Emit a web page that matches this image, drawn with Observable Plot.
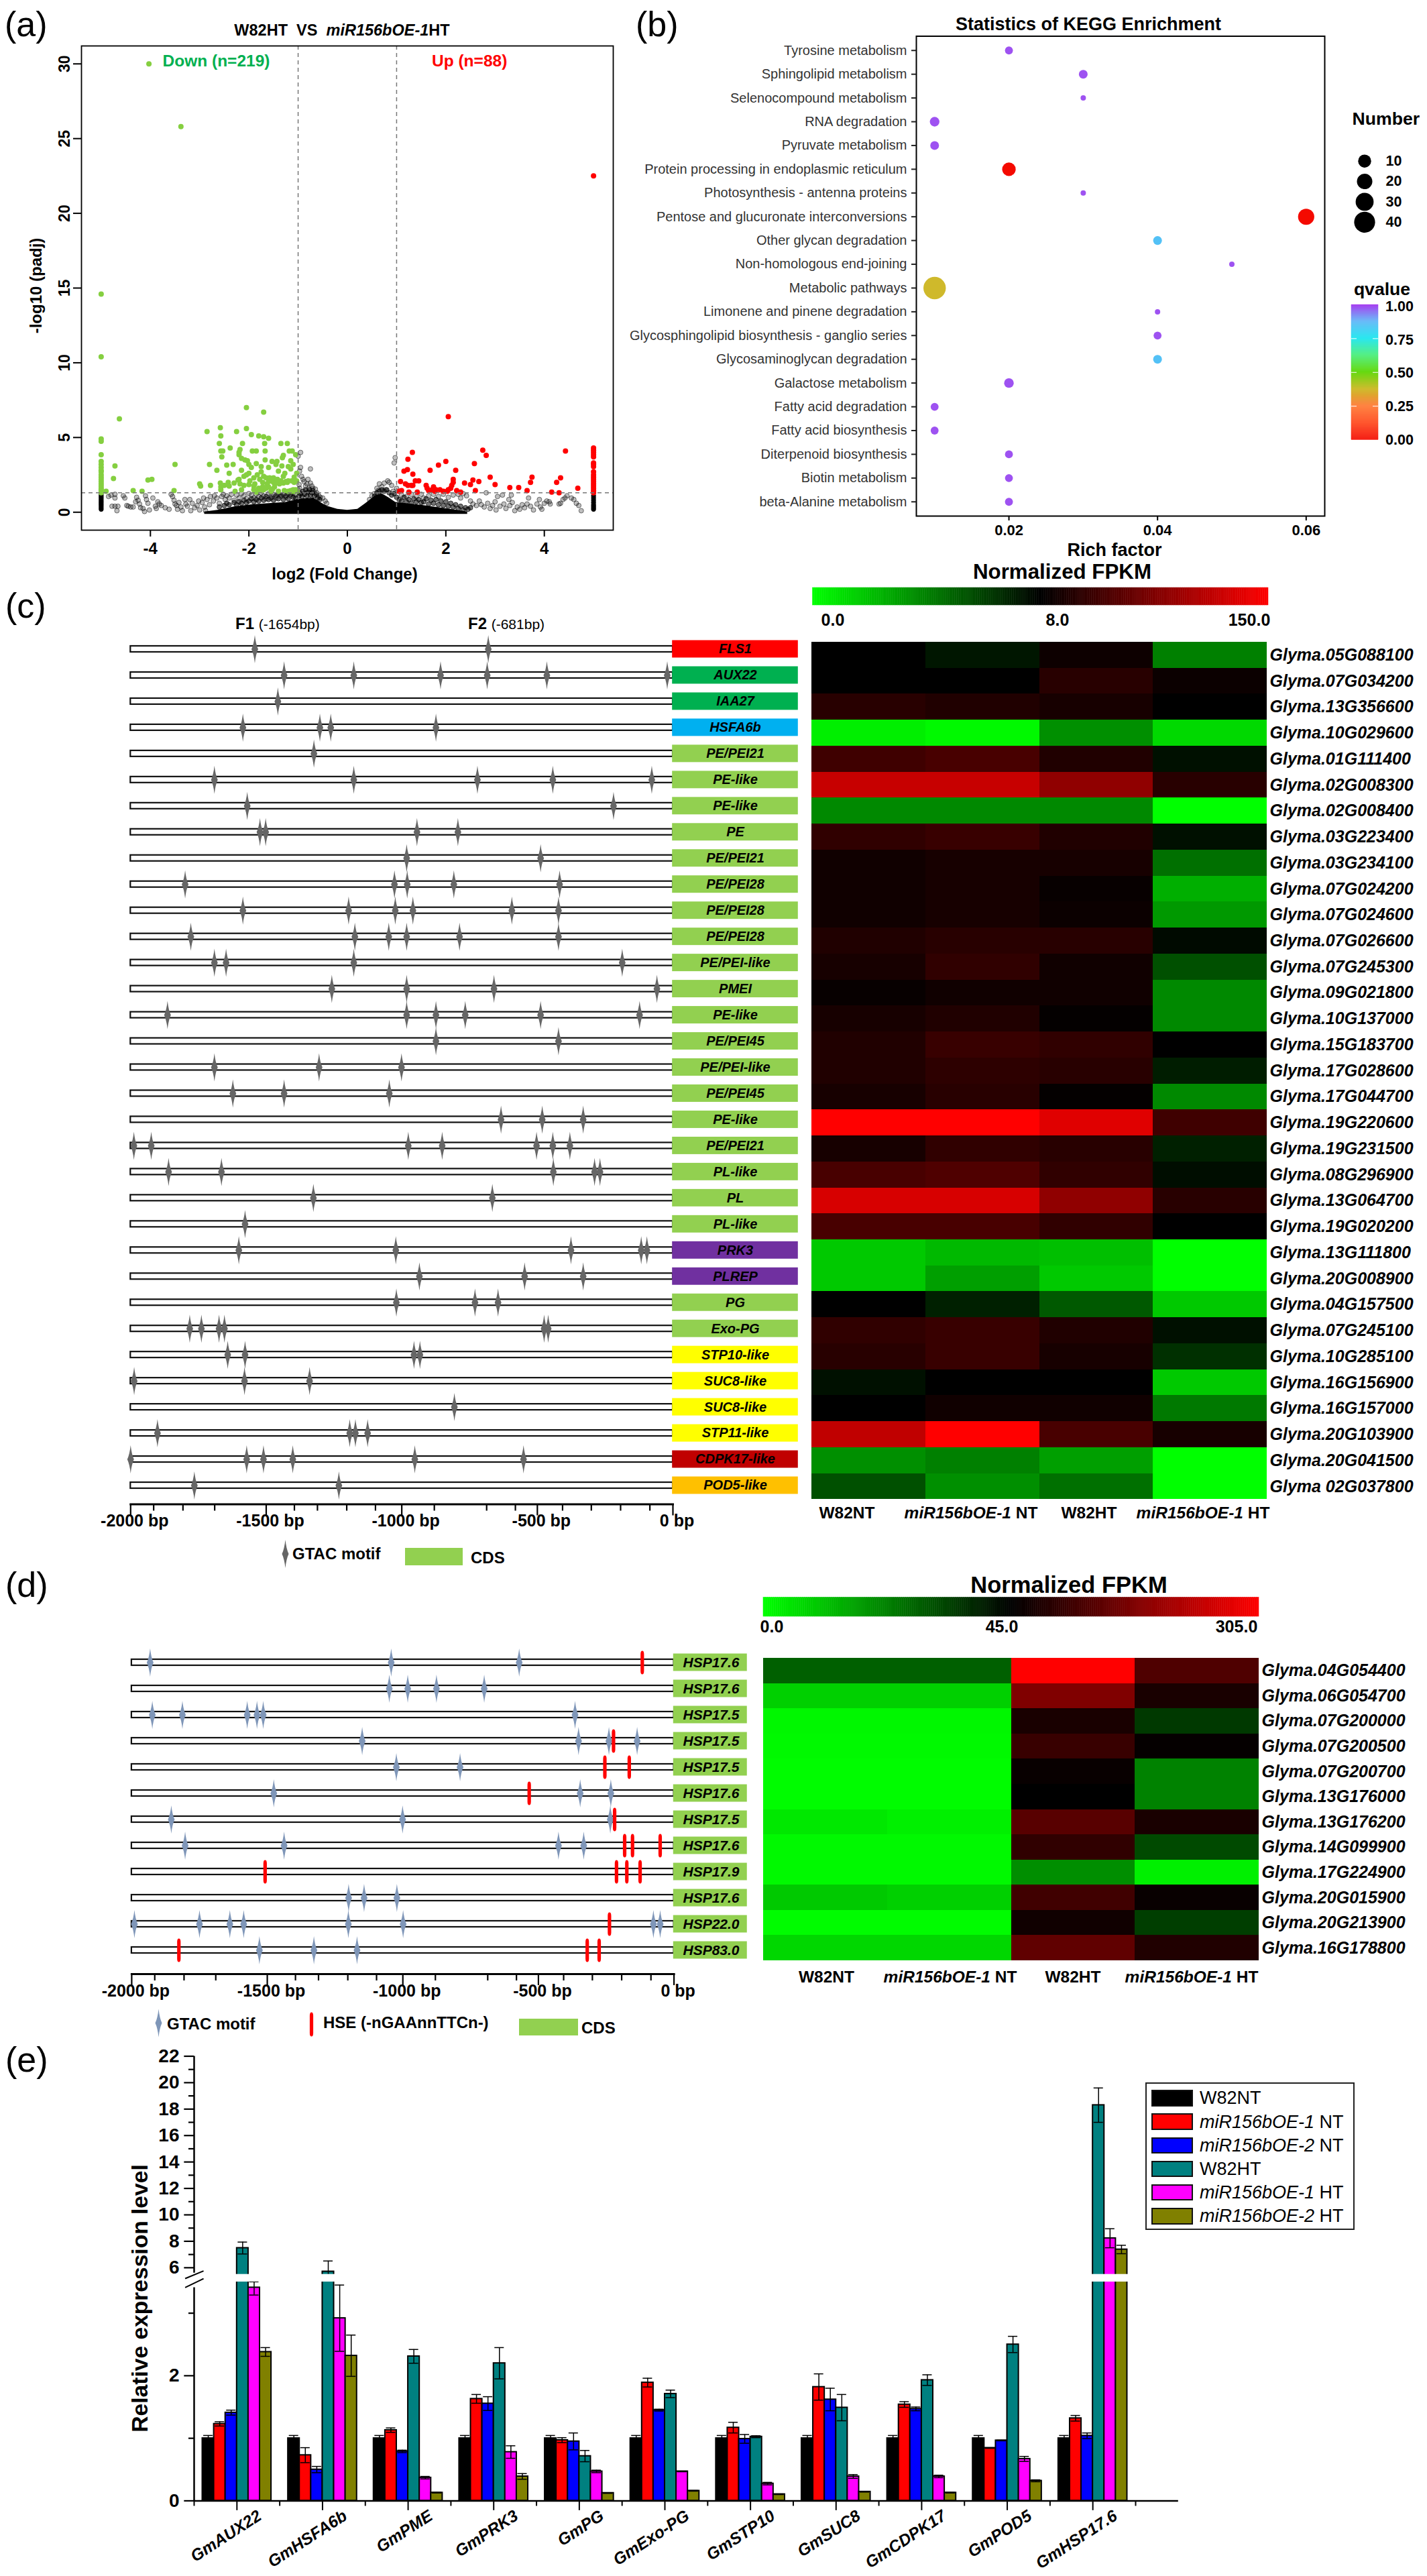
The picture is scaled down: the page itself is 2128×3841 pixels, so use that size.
<!DOCTYPE html>
<html><head><meta charset="utf-8">
<script src="https://cdn.jsdelivr.net/npm/d3@7"></script>
<script src="https://cdn.jsdelivr.net/npm/@observablehq/plot@0.6"></script>
<style>
html,body{margin:0;padding:0;background:#fff}
#root{position:relative;width:2128px;height:3841px;overflow:hidden;background:#fff;font-family:"Liberation Sans",Arial,sans-serif;color:#000}
#root .t{position:absolute;white-space:nowrap;line-height:1}
#root .b{position:absolute;box-sizing:border-box}
</style></head><body><div id="root"></div>
<script>
/* ---------- panel (a) volcano ---------- */
const greenDots=[[-5,14.6],[-5,10.4],[-5,4.9],[-5,4.75],[-5,3.85],[-5,3.4],[-5,3.2],[-5,3],[-5,2.8],[-5,2.7],[-5,2.5],[-5,2.35],[-5,2.2],[-5,2.05],[-5,1.9],[-5,1.75],[-5,1.6],[-5,1.5],[-5,1.4],[-5,1.3],
[-4.03,30],[-3.38,25.8],[-4.63,6.25],[-4.72,3.1],[-4.75,2.25],[-4.9,1.4],[-4.35,1.45],[-4.17,1.4],[-4.05,2.15],[-3.97,2.2],[-3.5,3.2],[-3.52,1.45],[-3,1.9],[-2.98,1.75],[-2.85,5.4],[-2.8,3.2],[-2.78,1.8],[-2.65,2.8],[-2.58,5.65],[-2.57,5.1],[-2.6,4.6],[-2.57,4.1],[-2.53,4.1],[-2.55,3.7],[-2.58,1.95],[-2.57,1.7],[-2.57,1.5],[-2.5,1.8],[-2.45,3.15],[-2.4,2.6],[-2.42,2],[-2.4,1.75],[-2.38,4.3],[-2.32,3.2],[-2.3,1.95],[-2.28,1.4],[-2.25,5.4],[-2.22,2.15],[-2.2,3.85],[-2.2,4],[-2.18,4.2],[-2.2,2.2],[-2.18,1.9],[-2.15,3.6],[-2.15,2.8],[-2.15,1.5],[-2.13,4.6],[-2.1,2.4],[-2.08,3.5],[-2.1,1.8],[-2.05,5.6],[-2.05,7],[-2.03,3.45],[-2,3.2],[-2,2.6],[-1.98,2.1],[-1.95,5.2],[-1.95,3],[-1.93,4.1],[-1.9,2.3],[-1.9,1.75],[-1.85,4.1],[-1.85,3.25],[-1.83,2.5],[-1.8,1.6],[-1.8,5.1],[-1.75,3.05],[-1.75,2.7],[-1.72,2],[-1.7,1.5],[-1.7,6.7],[-1.7,5.05],[-1.68,4.6],[-1.67,4.1],[-1.67,3.5],[-1.65,2.3],[-1.63,1.9],[-1.6,4.95],[-1.6,3],[-1.58,2.3],[-1.55,1.4],[-1.53,3.4],[-1.5,2],[-1.48,1.7],[-1.45,3.2],[-1.43,3.4],[-1.4,2.75],[-1.38,1.9],[-1.4,1.4],[-1.35,4.6],[-1.33,3.1],[-1.3,2.4],[-1.3,1.95],[-1.28,1.45],[-1.22,4.6],[-1.3,3.8],[-1.32,3.65],[-1.27,2.6],[-1.22,2],[-1.2,1.4],[-1.2,3.05],[-1.18,4.1],[-1.15,3.45],[-1.15,2.9],[-1.13,2.1],[-1.13,1.4],[-1.12,4.1],[-1.1,3.2],[-1.08,2.35],[-1.08,2],[-1.07,1.4],[-1.05,3.85],[-1.03,2.6],[-1.03,2.1],[-1.02,1.4],
[-1.9,1.5],[-1.85,1.35],[-1.75,1.45],[-1.72,1.7],[-1.65,1.6],[-1.6,1.7],[-1.55,2.1],[-1.52,1.55],[-1.45,1.95],[-1.42,2.2],[-1.35,2.1],[-1.25,2.05],[-1.2,2.1],[-1.15,1.45],[-1.1,1.5],[-1.05,1.5],[-2,1.85],[-2.05,2.5],[-1.88,1.9],[-1.78,2.2],[-1.7,2.4],[-1.6,2.05],[-1.5,2.3]];
const redDots=[[5,22.5],[5,4.3],[5,4.15],[5,4],[5,3.85],[5,3.7],[5,3.3],[5,3.2],[5,3.05],[5,2.7],[5,2.5],[5,2.35],[5,2.2],[5,2.05],[5,1.9],[5,1.75],[5,1.6],[5,1.45],[5,1.3],
[1.05,1.4],[1.1,1.45],[1.08,2.05],[1.15,2.75],[1.18,1.9],[1.23,1.8],[1.22,2.85],[1.23,3.55],[1.25,1.35],[1.3,1.8],[1.33,2.55],[1.33,1.8],[1.32,4],[1.38,2.1],[1.42,1.35],[1.45,2.1],[1.6,1.8],[1.62,1.6],[1.65,1.45],[1.68,2.8],[1.72,1.5],[1.75,1.7],[1.78,1.4],[1.8,1.5],[1.85,3.15],[1.88,1.5],[1.95,1.4],[2,3.4],[2.03,1.4],[2.05,6.4],[2.05,1.5],[2.1,1.6],[2.12,1.8],[2.15,2],[2.15,2.2],[2.2,2.8],[2.22,1.45],[2.3,1.35],[2.38,1.95],[2.5,1.85],[2.55,2.15],[2.58,3.25],[2.6,1.45],[2.67,2.05],[2.75,4.15],[2.82,3.8],[2.9,2.35],[3,1.85],[3.3,1.65],[3.48,1.65],[3.65,1.45],[3.72,2],[3.75,2.35],[4.15,1.35],[4.25,2],[4.3,1.3],[4.33,2.3],[4.43,4.1],[4.68,1.6]];
const grayDots=[[-4.85,1.05],[-4.8,1.15],[-4.72,1.2],[-4.72,.95],[-4.78,.4],[-4.72,.4],[-4.68,.1],[-4.66,.4],[-4.55,1.1],[-4.52,.95],[-4.48,.45],[-4.45,.4],[-4.4,.35],[-4.35,.35],[-4.3,.7],[-4.28,1],[-4.25,.8],[-4.22,.55],[-4.2,.3],[-4.15,.25],[-4.12,.05],[-4.1,1.1],[-4.08,.85],[-4.05,.6],[-4.02,.15],[-3.95,.95],[-3.9,.4],[-3.88,.25],[-3.85,.7],[-3.82,.55],[-3.78,.45],[-3.7,.3],[-3.62,.2],[-3.58,1.2],[-3.55,1.05],[-3.52,.8],[-3.5,.55],[-3.47,.45],[-3.45,.2],[-3.42,.65],[-3.38,.35],[-3.35,.1],[-3.3,.85],[-3.28,.55],[-3.25,.4],[-3.2,.85],[-3.18,.1],[-3.15,.6],[-3.1,.3],[-3.05,.45],[-3.02,.75],[-3,.15],[-2.95,.65],[-2.92,.95],[-2.9,.35],[-2.88,.1],[-2.85,.85],[-2.8,.5],[-2.78,1.05],[-2.72,.75],[-2.7,1.1],[-2.65,.95],[-2.6,.6],[-2.55,1.05],[-2.52,1.2],[-2.48,.85],[-2.45,1.1],[-2.4,.95],[-2.35,1.2],[-2.3,.8],[-2.25,1.15],[-2.2,.95],[-2.15,1.25],[-2.1,1.1],[-2.05,.9],[-2,1.25],[-1.95,1.15],[-1.9,.95],[-1.85,1.2],[-1.8,1.05],[-1.75,1.28],[-1.7,1.1],[-1.65,.9],[-1.6,1.25],[-1.55,1.1],[-1.5,1.2],[-1.45,.95],[-1.4,1.25],[-1.35,1.05],[-1.3,1.2],[-1.25,1],[-1.2,1.25],[-1.15,1.1],[-1.1,1.28],[-1.05,1.15],
[-1,1.5],[-.98,1.85],[-.97,1.6],[-.95,4],[-1,3.75],[-.95,3],[-.97,2.75],[-.75,2.9],[-.93,2.4],[-.9,2.2],[-.88,2.05],[-.85,1.75],[-.82,1.9],[-.8,2.2],[-.78,1.6],[-.75,1.95],[-.72,1.75],[-.7,1.6],[-.65,1.55],[-.62,1.3],[-.58,1.1],[-.55,1],[-.5,.95],[-.45,.75],[-.42,.6],
[.45,.85],[.5,1.1],[.55,1.25],[.6,1.6],[.63,1.45],[.65,1.9],[.7,1.7],[.75,1.95],[.78,1.5],[.82,2.1],[.85,2],[.9,1.8],[.95,3.3],[.97,3.65],[.93,1.4],[1,1.6],
[1.1,1.15],[1.2,1.05],[1.3,1.2],[1.4,1.05],[1.5,1.2],[1.55,.95],[1.65,1.1],[1.75,1.2],[1.85,1.05],[1.95,1.2],[2.05,1],[2.15,1.15],[2.25,1.2],[2.3,.95],[2.35,1.25],[2.42,1.1],[2.5,.75],[2.55,.55],[2.62,.45],[2.68,.75],[2.72,.5],[2.78,.35],[2.82,1.3],[2.85,.6],[2.9,.25],[2.95,.45],[3,.7],[3.02,.15],[3.05,1.05],[3.1,.4],[3.15,1.15],[3.18,.55],[3.22,.25],[3.28,.85],[3.3,.45],[3.33,1.15],[3.35,.65],[3.4,.1],[3.45,.35],[3.5,.2],[3.55,.5],[3.6,.3],[3.65,.55],[3.68,.95],[3.72,.4],[3.78,.15],[3.85,.55],[3.9,.85],[3.92,.35],[3.95,.2],[4,.6],[4.05,.75],[4.1,.7],[4.12,.55],[4.3,.55],[4.33,.6],[4.38,.85],[4.42,.95],[4.46,1.1],[4.55,.95],[4.6,.85],[4.65,.6],[4.7,.45],[4.75,.1]];
const speckleDots=[[-2.6,.35],[-2.5,.45],[-2.45,.6],[-2.4,.5],[-2.3,.65],[-2.25,.5],[-2.2,.7],[-2.15,.6],[-2.1,.8],[-2.05,.65],[-2,.75],[-1.95,.9],[-1.9,.7],[-1.85,.85],[-1.8,.75],[-1.75,.95],[-1.7,.8],[-1.65,1.05],[-1.6,.85],[-1.55,.95],[-1.5,.8],[-1.45,1.1],[-1.4,.9],[-1.35,1.15],[-1.3,.85],[-1.25,1.1],[-1.2,.9],[-1.15,1.2],[-1.1,1],[-1.05,.95],[-.98,1.1],[-.95,1.25],[-.92,1.05],[-.9,1.4],[-.87,1.2],[-.85,1.5],[-.82,1.1],[-.8,1.35],[-.77,1.5],[-.75,1.15],[-.72,1.3],[-.7,1.45],[-.67,1.1],[-.63,1.2],[-.6,.95],[-.56,.85],
[.55,1.05],[.6,1.3],[.65,1.4],[.7,1.5],[.75,1.4],[.8,1.5],[.85,1.3],[.9,1.15],[.95,1.25],[1,1],[1.05,.85],[1.1,.75],[1.15,1],[1.2,.7],[1.25,.85],[1.3,.6],[1.35,.9],[1.4,.7],[1.45,.85],[1.5,.65],[1.55,.7],[1.6,.9],[1.65,.55],[1.7,.8],[1.75,.6],[1.8,.85],[1.85,.5],[1.9,.75],[1.95,.45],[2,.7],[2.05,.4],[2.1,.6],[2.15,.35],[2.2,.5],[2.25,.25],[2.3,.4],[2.35,.15],[2.4,.3],[2.45,.2],[2.5,.3]];
const columnDots=[[-5,.2],[-5,.3],[-5,.4],[-5,.5],[-5,.6],[-5,.7],[-5,.8],[-5,.9],[-5,1],[-5,1.1],[-5,1.2],[5,.2],[5,.3],[5,.4],[5,.5],[5,.65],[5,.8],[5,.95],[5,1.1]];
const cloudX=[-2.9,-2.63,-2.3,-1.94,-1.25,-1,-.69,-.55,-.41,-.2,0,.21,.37,.57,.7,.85,.98,1.53,2.09,2.44];
const cloudY=[.02,.13,.36,.5,.66,.88,.95,.66,.4,.2,.13,.2,.58,1.1,1.25,.95,.66,.46,.2,.02];
/* ---------- panel (b) KEGG ---------- */
const keggTerms=["Tyrosine metabolism","Sphingolipid metabolism","Selenocompound metabolism","RNA degradation","Pyruvate metabolism","Protein processing in endoplasmic reticulum","Photosynthesis - antenna proteins","Pentose and glucuronate interconversions","Other glycan degradation","Non-homologous end-joining","Metabolic pathways","Limonene and pinene degradation","Glycosphingolipid biosynthesis - ganglio series","Glycosaminoglycan degradation","Galactose metabolism","Fatty acid degradation","Fatty acid biosynthesis","Diterpenoid biosynthesis","Biotin metabolism","beta-Alanine metabolism"];
const keggRich=[.02,.03,.03,.01,.01,.02,.03,.06,.04,.05,.01,.04,.04,.04,.02,.01,.01,.02,.02,.02];
const keggNumber=[4,5,1,6,5,12,1,23,5,1,50,1,4,5,6,4,4,4,4,4];
const keggQ=[.98,.98,.98,.98,.98,0,.98,0,.85,.98,.37,.98,.98,.85,.98,.98,.98,.98,.98,.98];
const numberLegend=[10,20,30,40];
const sizeStops=[1,10,20,30,40,50];
const sizeRadii=[4,9.7,11.5,13.4,15.6,16.7];
const qStops=[0,.125,.25,.375,.5,.625,.75,.875,1];
const qColors=["#F40A00","#FF4A1E","#FF7F3C","#CDBB2A","#5CD600","#46EE78","#18E5EE","#62B8F8","#A93EF0"];
/* ---------- panel (c) ---------- */
const cdsC=["FLS1","AUX22","IAA27","HSFA6b","PE/PEI21","PE-like","PE-like","PE","PE/PEI21","PE/PEI28","PE/PEI28","PE/PEI28","PE/PEI-like","PMEI","PE-like","PE/PEI45","PE/PEI-like","PE/PEI45","PE-like","PE/PEI21","PL-like","PL","PL-like","PRK3","PLREP","PG","Exo-PG","STP10-like","SUC8-like","SUC8-like","STP11-like","CDPK17-like","POD5-like"];
const cdsColorC=["#FF0000","#00B050","#00B050","#00B0F0",...Array(19).fill("#92D050"),"#7030A0","#7030A0","#92D050","#92D050","#FFFF00","#FFFF00","#FFFF00","#FFFF00","#C00000","#FFC000"];
const motifsC=[[-1542,-681],[-1434,-1177,-857,-685,-465,-21],[-1457],[-1586,-1302,-1262,-874],[-1324],[-1691,-1177,-721,-443,-78],[-1570,-219],[-1523,-1502,-944,-793],[-982,-488],[-1799,-1027,-980,-808,-418],[-1586,-1196,-1024,-959,-594,-422],[-1778,-1173,-1048,-982,-787,-422],[-1691,-1648,-1177,-187],[-1258,-982,-660,-59],[-1864,-982,-874,-766,-488,-123],[-874,-422],[-1691,-1305,-1001],[-1623,-1434,-1046],[-634,-482,-331],[-1988,-1924,-976,-851,-503,-443,-380],[-1860,-1665,-441,-289,-269],[-1326,-666],[-1578],[-1601,-1022,-376,-117,-96],[-935,-547,-331],[-1020,-730,-645],[-1782,-1739,-1674,-1654,-475,-460],[-1642,-1578,-955,-933],[-1987,-1580,-1340],[-806],[-1901,-1192,-1171,-1126],[-2000,-1572,-1510,-1402,-952,-551],[-1765,-1232]];
const genesC=["Glyma.05G088100","Glyma.07G034200","Glyma.13G356600","Glyma.10G029600","Glyma.01G111400","Glyma.02G008300","Glyma.02G008400","Glyma.03G223400","Glyma.03G234100","Glyma.07G024200","Glyma.07G024600","Glyma.07G026600","Glyma.07G245300","Glyma.09G021800","Glyma.10G137000","Glyma.15G183700","Glyma.17G028600","Glyma.17G044700","Glyma.19G220600","Glyma.19G231500","Glyma.08G296900","Glyma.13G064700","Glyma.19G020200","Glyma.13G111800","Glyma.20G008900","Glyma.04G157500","Glyma.07G245100","Glyma.10G285100","Glyma.16G156900","Glyma.16G157000","Glyma.20G103900","Glyma.20G041500","Glyma 02G037800"];
const fpkmC=[[8,7.3,15,4],[8,8,30,14],[30,26,21,8],[.5,.2,3.5,1.2],[43,48,26,7.5],[119,119,88,30],[3.7,3.7,3.7,0],[35,39,26,7.5],[17,21,21,4.5],[17,21,12,2.5],[17,21,14,3.2],[26,30,30,7.7],[21,35,17,5.5],[12,17,17,3.7],[21,26,10,3.7],[26,39,35,8],[26,33,30,7.1],[21,30,10,3.7],[150,150,133,43],[21,35,30,7],[48,52,35,7.6],[128,128,88,30],[48,48,35,8],[1.7,2.2,2,0],[1.7,3,1.7,0],[8,7,5.2,1.7],[35,39,26,7.5],[30,39,21,6.5],[7.5,8,8,1.7],[8,17,17,4.2],[115,150,48,21],[3.5,4,3,0],[5.5,3.5,4.5,0]];
const samples=["W82NT","miR156bOE-1 NT","W82HT","miR156bOE-1 HT"];
/* ---------- panel (d) ---------- */
const cdsD=["HSP17.6","HSP17.6","HSP17.5","HSP17.5","HSP17.5","HSP17.6","HSP17.5","HSP17.6","HSP17.9","HSP17.6","HSP22.0","HSP83.0"];
const motifsD=[[-1932,-1043,-571],[-1050,-982,-876,-700],[-1924,-1813,-1574,-1538,-1515,-365],[-1150,-352,-240,-136],[-1024,-789],[-1476,-346,-233],[-1854,-1001,-235],[-1803,-1438,-426,-333],[],[-1200,-1143,-1022],[-1990,-1750,-1638,-1587,-1201,-999,-76,-51],[-1529,-1328,-1169]];
const hseD=[[-117],[],[],[-223],[-255,-165],[-534],[-219],[-182,-153,-51],[-1508,-212,-174,-125],[],[-238],[-1826,-320,-276]];
const genesD=["Glyma.04G054400","Glyma.06G054700","Glyma.07G200000","Glyma.07G200500","Glyma.07G200700","Glyma.13G176000","Glyma.13G176200","Glyma.14G099900","Glyma.17G224900","Glyma.20G015900","Glyma.20G213900","Glyma.16G178800"];
const fpkmD=[[28,28,305,126],[8.3,8.3,175,70],[1.5,1.5,70,35],[1,1,102,50],[.5,.5,53,22],[.5,.5,45,22],[4,2.6,135,70],[1,1,94,32],[1,1,20,2.6],[9.6,8.3,110,53],[.5,.5,61,34],[7,7,143,78]];
const axisMajor=[-2000,-1500,-1000,-500,0];
const axisMinor=[-1915,-1807,-1690,-1396,-1311,-1203,-1097,-880,-687,-581,-407,-301,-193,-85];
/* ---------- panel (e) ---------- */
const qpcrGenes=["GmAUX22","GmHSFA6b","GmPME","GmPRK3","GmPG","GmExo-PG","GmSTP10","GmSUC8","GmCDPK17","GmPOD5","GmHSP17.6"];
const qpcrSeries=["W82NT","miR156bOE-1 NT","miR156bOE-2 NT","W82HT","miR156bOE-1 HT","miR156bOE-2 HT"];
const qpcrColors=["#000000","#FF0000","#0000FF","#008080","#FF00FF","#808000"];
const qpcrMean=[[1,1.23,1.41,7.49,3.41,2.38],[1,.73,.5,5.71,2.92,2.32],[1,1.13,.79,2.31,.37,.13],[1,1.63,1.555,2.2,.78,.39],[1,.97,.95,.715,.47,.125],[1,1.89,1.45,1.71,.47,.16],[1,1.17,.99,1.025,.275,.105],[1,1.82,1.62,1.49,.39,.145],[1,1.54,1.47,1.93,.39,.13],[1,.845,.965,2.5,.67,.32],[1,1.32,1.04,18.3,8.23,7.38]];
const qpcrErr=[[.045,.034,.04,.45,.12,.07],[.045,.12,.05,.8,.53,.33],[.045,.035,.02,.11,.02,.005],[.045,.07,.11,.25,.1,.045],[.045,.04,.135,.09,.02,.005],[.045,.07,.015,.06,.005,.005],[.045,.085,.07,.015,.02,.005],[.045,.21,.18,.21,.03,.005],[.045,.045,.03,.085,.02,.005],[.045,.005,.005,.13,.04,.015],[.045,.045,.045,1.3,.72,.32]];
const yLabelled=[0,2,6,8,10,12,14,16,18,20,22];
const yMinor=[1,3,7,9,11,13,15,17,19,21];

/* ---------- helpers ---------- */
const root=document.getElementById("root");
const PAGE_W=2128,PAGE_H=3841,FONT='"Liberation Sans",Arial,sans-serif';
const box=(l,t,r,b)=>({width:PAGE_W,height:PAGE_H,marginLeft:l,marginTop:t,marginRight:PAGE_W-r,marginBottom:PAGE_H-b,
  style:{position:"absolute",left:0,top:0,background:"transparent",overflow:"visible",fontFamily:FONT}});
const mount=o=>root.append(Plot.plot(o));
function label(html,x,y,{size=24,weight=700,anchor="start",color="#000",rotate=0}={}){
  const d=document.createElement("div");d.className="t";d.innerHTML=html;
  const tx=anchor==="middle"?"-50%":anchor==="end"?"-100%":"0";
  Object.assign(d.style,{left:x+"px",top:y+"px",fontSize:size+"px",fontWeight:weight,color,transform:`translate(${tx},-50%) rotate(${rotate}deg)`});
  root.append(d);
}
function block(x,y,w,h,color,border){const d=document.createElement("div");d.className="b";
  Object.assign(d.style,{left:x+"px",top:y+"px",width:w+"px",height:h+"px",background:color,border:border||"none"});root.append(d);}
const spindle=(w,h)=>({draw(c){c.moveTo(0,-h);c.quadraticCurveTo(w*.3,-h*.35,w,0);c.quadraticCurveTo(w*.3,h*.35,0,h);c.quadraticCurveTo(-w*.3,h*.35,-w,0);c.quadraticCurveTo(-w*.3,-h*.35,0,-h);c.closePath();}});
const tick=(w,h)=>({draw(c){c.moveTo(0,-h);c.quadraticCurveTo(w,-h,w,-h+w*2);c.lineTo(w,h-w*2);c.quadraticCurveTo(w,h,0,h);c.quadraticCurveTo(-w,h,-w,h-w*2);c.lineTo(-w,-h+w*2);c.quadraticCurveTo(-w,-h,0,-h);c.closePath();}});
function glyph(sym,x,y,color){mount({...box(x-1,y-1,x+1,y+1),x:{axis:null,domain:[0,1]},y:{axis:null,domain:[0,1]},
  marks:[Plot.dot([0],{frameAnchor:"middle",symbol:sym,r:5,fill:color,stroke:"none"})]});}
function panelTag(s,x,y){label(s,x,y,{size:52,weight:400});}
const heatColor=dom=>({type:"linear",domain:dom,range:["#00FF00","#000000","#FF0000"]});

function colorBar(dom,l,m,r,t,b){
  const n=240,pos=d3.scaleLinear().domain([0,.5,1]).range(dom);
  const bins=d3.range(n).map(i=>({a:pos(i/n),b:pos((i+1)/n)}));
  mount({...box(l,t,r,b),x:{axis:null,type:"linear",domain:dom,range:[l,m,r]},y:{axis:null},
    color:heatColor(dom),
    marks:[Plot.rectX(bins,{x1:"a",x2:"b",fill:"a",stroke:"a",strokeWidth:.5})]});
}
function heatmap(genes,vals,dom,l,t,r,b){
  const cells=vals.flatMap((row,i)=>row.map((v,j)=>({gene:genes[i],col:samples[j],v})));
  mount({...box(l,t,r,b),x:{axis:null,type:"band",domain:samples,padding:0,round:false},y:{axis:null,type:"band",domain:genes,padding:0,round:false},
    color:heatColor(dom),
    marks:[Plot.cell(cells,{x:"col",y:"gene",fill:"v",shapeRendering:"crispEdges"}),
      Plot.axisY({anchor:"right",tickSize:0,tickPadding:4,fontSize:25,fontWeight:"bold",fontStyle:"italic",label:null,color:"#000"})]});
}
function geneTracks({names,colors,motifs,hse,l,r,t,b,axisAt,motifColor,cdsEnd,cdsMid,cdsFont}){
  const rows=names.map((n,i)=>({i,n,c:colors?colors[i]:"#92D050"}));
  const M=motifs.flatMap((a,i)=>a.map(bp=>({i,bp})));
  const H=(hse||[]).flatMap((a,i)=>a.map(bp=>({i,bp})));
  mount({...box(l,t,r,axisAt),
    x:{axis:null,domain:[-2000,0]},
    y:{axis:null,type:"band",domain:rows.map(d=>d.i),range:[t,b],padding:0,round:false},
    color:{type:"identity"},
    marks:[
      Plot.barX(rows,{x1:()=>-2000,x2:()=>0,y:"i",insetTop:15,insetBottom:15,fill:"#fff",stroke:"#111",strokeWidth:2.2}),
      Plot.barX(rows,{x1:()=>-2,x2:()=>cdsEnd,y:"i",insetTop:6.5,insetBottom:6.5,fill:"c"}),
      Plot.text(rows,{x:()=>cdsMid,y:"i",text:"n",fontSize:cdsFont,fontWeight:"bold",fontStyle:"italic",fill:"#000"}),
      Plot.dot(M,{x:"bp",y:"i",symbol:spindle(5,21),r:5,fill:motifColor,stroke:"none"}),
      Plot.dot(H,{x:"bp",y:"i",symbol:tick(2.6,17.5),r:5,fill:"#FF0000",stroke:"none"}),
      Plot.frame({anchor:"bottom",stroke:"#000",strokeWidth:3}),
      Plot.axisX({ticks:axisMajor,tickSize:17,strokeWidth:2.2,stroke:"#000",fill:"none",label:null}),
      Plot.axisX({ticks:axisMinor,tickSize:10,strokeWidth:2.2,stroke:"#000",fill:"none",label:null}),
      Plot.text(axisMajor,{x:d=>d,text:d=>d+" bp",frameAnchor:"bottom",dx:6,dy:33,fontSize:25,fontWeight:"bold",fill:"#000"})
    ]});
}

/* ---------- (a) ---------- */
panelTag("(a)",7,36);
const xy=()=>({x:d=>d[0],y:d=>d[1]});
mount({...box(121,68,914,790),
  x:{axis:null,domain:[-5.4,5.4]},y:{axis:null,domain:[-1.2,31.2]},
  marks:[
    Plot.areaY(cloudX.map((x,i)=>({x,y:cloudY[i]})),{x:"x",y1:()=>-.13,y2:"y",fill:"#000"}),
    Plot.dot(grayDots,{...xy(),r:3.5,fill:"#000",fillOpacity:.25,stroke:"#000",strokeOpacity:.5,strokeWidth:1}),
    Plot.dot(speckleDots,{...xy(),r:3.5,fill:"#000",fillOpacity:.55,stroke:"#000",strokeOpacity:.7,strokeWidth:1}),
    Plot.dot(columnDots,{...xy(),r:3.6,fill:"#000"}),
    Plot.dot(greenDots,{...xy(),r:4,fill:"#85CF40"}),
    Plot.dot(redDots,{...xy(),r:4,fill:"#FF0000"}),
    Plot.ruleX([-1,1],{stroke:"#777",strokeWidth:1.5,strokeDasharray:"6 5"}),
    Plot.ruleY([1.3],{stroke:"#777",strokeWidth:1.5,strokeDasharray:"6 5"}),
    Plot.frame({stroke:"#000",strokeWidth:1.8}),
    Plot.axisX({ticks:[-4,-2,0,2,4],tickSize:10,tickPadding:8,tickFormat:d=>String(d),fontSize:24,fontWeight:"bold",strokeWidth:2,color:"#000",label:null}),
    Plot.axisY({ticks:[0,5,10,15,20,25,30],tickSize:12,tickPadding:6,tickRotate:-90,tickFormat:d=>String(d),fontSize:23,fontWeight:"bold",strokeWidth:2,color:"#000",label:null})
  ]});
label("W82HT&nbsp; VS&nbsp; <i>miR156bOE-1</i>HT",510,46,{size:23.5,anchor:"middle"});
label("Down (n=219)",242.5,91,{size:24.5,color:"#00B050"});
label("Up (n=88)",644,91,{size:24.5,color:"#FF0000"});
label("-log10 (padj)",54,426,{size:24,anchor:"middle",rotate:-90});
label("log2 (Fold Change)",514,856,{size:24,anchor:"middle"});

/* ---------- (b) ---------- */
panelTag("(b)",948,36);
const kegg=keggTerms.map((term,i)=>({term,rich:keggRich[i],n:keggNumber[i],q:keggQ[i]}));
const rScale={type:"linear",domain:sizeStops,range:sizeRadii};
const qScale={type:"linear",domain:qStops,range:qColors};
mount({...box(1366,53.5,1975,769),
  x:{axis:null,domain:[.00754,.0625]},
  y:{axis:null,type:"point",domain:keggTerms,padding:.6,round:false},
  r:rScale,color:qScale,
  marks:[
    Plot.dot(kegg,{x:"rich",y:"term",r:"n",fill:"q",stroke:"none"}),
    Plot.frame({stroke:"#000",strokeWidth:2}),
    Plot.axisY({tickSize:7,tickPadding:7,fontSize:20,strokeWidth:2,stroke:"#222",color:"#333",label:null}),
    Plot.axisX({ticks:[.02,.04,.06],tickSize:7,tickPadding:6,tickFormat:d=>d.toFixed(2),fontSize:22,fontWeight:"bold",strokeWidth:2,color:"#000",label:null})
  ]});
label("Statistics of KEGG Enrichment",1623,35.5,{size:27,anchor:"middle"});
label("Rich factor",1662,819.5,{size:27,anchor:"middle"});
label("Number",2016.6,177,{size:26.6});
mount({...box(2000,204,2120,366),x:{axis:null,domain:[0,1]},y:{axis:null,type:"point",domain:numberLegend,range:[224.5,346],round:false},
  r:rScale,
  marks:[Plot.dot(numberLegend,{y:d=>d,r:d=>d,frameAnchor:"left",dx:34.5,fill:"#000",stroke:"none"}),
         Plot.text(numberLegend,{y:d=>d,text:d=>String(d),frameAnchor:"left",dx:66,textAnchor:"start",fontSize:21.5,fontWeight:"bold",fill:"#000"})]});
label("qvalue",2061,431,{size:26.6,anchor:"middle"});
mount({...box(2015,454,2055,655.5),x:{axis:null,domain:[0,1]},y:{axis:null,domain:[0,1]},color:qScale,
  marks:[Plot.rectY(d3.range(200).map(i=>i/200),{y1:d=>d,y2:d=>d+.005,fill:d=>d,stroke:d=>d,strokeWidth:.4}),
    Plot.ruleY([.25,.5,.75],{x1:()=>0,x2:()=>.2,stroke:"#fff",strokeWidth:1}),
    Plot.ruleY([.25,.5,.75],{x1:()=>.8,x2:()=>1,stroke:"#fff",strokeWidth:1})]});
[["1.00",458.4],["0.75",508],["0.50",557.4],["0.25",607],["0.00",657]].forEach(d=>label(d[0],2066,d[1],{size:21.5}));

/* ---------- (c) ---------- */
panelTag("(c)",8,903);
label('<b>F1</b> <span style="font-weight:400;font-size:21px">(-1654bp)</span>',351,930,{size:24});
label('<b>F2</b> <span style="font-weight:400;font-size:21px">(-681bp)</span>',698,930,{size:24});
geneTracks({names:cdsC,colors:cdsColorC,motifs:motifsC,l:194.3,r:1003,t:948,b:2234,axisAt:2242.5,motifColor:"#666666",cdsEnd:462,cdsMid:230,cdsFont:20});
label("Normalized FPKM",1584,853,{size:31.3,anchor:"middle"});
colorBar([0,8,150],1211.5,1551,1891,876,902);
label("0.0",1242,923.5,{size:25,anchor:"middle"});label("8.0",1577,923.5,{size:25,anchor:"middle"});label("150.0",1863,923.5,{size:25,anchor:"middle"});
heatmap(genesC,fpkmC,[0,8,150],1210,957,1889,2235.4);
label("W82NT",1263,2255.6,{size:24.5,anchor:"middle"});
label("<i>miR156bOE-1</i> NT",1448,2255.6,{size:24.5,anchor:"middle"});
label("W82HT",1624,2255.6,{size:24.5,anchor:"middle"});
label("<i>miR156bOE-1</i> HT",1794,2255.6,{size:24.5,anchor:"middle"});
glyph(spindle(5,21),425,2316.5,"#666666");
label("GTAC motif",436,2317,{size:24});
block(603.7,2308,86.5,26,"#92D050");
label("CDS",702,2323,{size:24});

/* ---------- (d) ---------- */
panelTag("(d)",8,2363);
geneTracks({names:cdsD,motifs:motifsD,hse:hseD,l:195.9,r:1004.6,t:2459,b:2927,axisAt:2943,motifColor:"#7F96B8",cdsEnd:270,cdsMid:137,cdsFont:21});
label("Normalized FPKM",1594,2363,{size:34.5,anchor:"middle"});
colorBar([0,45,305],1138,1507.5,1877,2381.5,2410);
label("0.0",1151,2425,{size:25,anchor:"middle"});label("45.0",1494,2425,{size:25,anchor:"middle"});label("305.0",1844,2425,{size:25,anchor:"middle"});
heatmap(genesD,fpkmD,[0,45,305],1138,2472,1877,2923);
label("W82NT",1232.5,2948,{size:24.5,anchor:"middle"});
label("<i>miR156bOE-1</i> NT",1417,2948,{size:24.5,anchor:"middle"});
label("W82HT",1600,2948,{size:24.5,anchor:"middle"});
label("<i>miR156bOE-1</i> HT",1777,2948,{size:24.5,anchor:"middle"});
glyph(spindle(5,21),236,3016,"#7F96B8");
label("GTAC motif",249,3017.7,{size:24});
glyph(tick(2.6,18),464,3018,"#FF0000");
label("HSE (-nGAAnnTTCn-)",482,3016,{size:24});
block(774,3009.6,87.5,25.4,"#92D050");
label("CDS",867,3023.5,{size:24});

/* ---------- (e) ---------- */
panelTag("(e)",8,3071);
const barW=.134;
const bars=qpcrMean.flatMap((row,g)=>row.map((v,s)=>({g,s,v,e:qpcrErr[g][s],c:qpcrColors[s],x1:g+(s-3)*barW,x2:g+(s-2)*barW})));
const cx=d=>(d.x1+d.x2)/2,capW=.055;
mount({...box(289,3060,1693,3728.4),
  x:{axis:null,domain:[-.5,10.5]},
  y:{axis:null,type:"linear",domain:[0,3.5,5.5,22],range:[3728.4,3402,3390.7,3065.5]},
  color:{type:"identity"},
  marks:[
    Plot.rectY(bars,{x1:"x1",x2:"x2",y1:()=>0,y2:"v",fill:"c",stroke:"#000",strokeWidth:2}),
    Plot.ruleX(bars,{x:cx,y1:d=>d.v-d.e,y2:d=>d.v+d.e,stroke:"#000",strokeWidth:1.5}),
    Plot.ruleY(bars,{x1:d=>cx(d)-capW,x2:d=>cx(d)+capW,y:d=>d.v+d.e,stroke:"#000",strokeWidth:1.5}),
    Plot.ruleY(bars,{x1:d=>cx(d)-capW,x2:d=>cx(d)+capW,y:d=>d.v-d.e,stroke:"#000",strokeWidth:1.5}),
    Plot.rect([0],{x1:()=>-.47,x2:()=>10.6,y1:()=>3.5,y2:()=>5.5,fill:"#fff"}),
    Plot.ruleY([0],{x1:()=>-.5,x2:()=>11,stroke:"#000",strokeWidth:2.5}),
    Plot.ruleX([-.5],{y1:()=>0,y2:()=>3.41,stroke:"#000",strokeWidth:2.5}),
    Plot.ruleX([-.5],{y1:()=>5.6,y2:()=>22,stroke:"#000",strokeWidth:2.5}),
    Plot.link([[3.41,4.38],[4.38,5.76]],{x1:()=>-.605,x2:()=>-.39,y1:d=>d[0],y2:d=>d[1],stroke:"#000",strokeWidth:2}),
    Plot.ruleY(yLabelled,{x1:()=>-.5,x2:()=>-.615,stroke:"#000",strokeWidth:2.2}),
    Plot.ruleY(yMinor,{x1:()=>-.5,x2:()=>-.563,stroke:"#000",strokeWidth:2.2}),
    Plot.text(yLabelled,{x:()=>-.5,y:d=>d,text:d=>String(d),textAnchor:"end",dx:-22,fontSize:28,fontWeight:"bold",fill:"#000"}),
    Plot.ruleX(qpcrGenes.map((_,i)=>i),{x:d=>d,y1:()=>0,y2:()=>-.155,stroke:"#000",strokeWidth:2}),
    Plot.ruleX(d3.range(-.5,11.5),{x:d=>d,y1:()=>0,y2:()=>-.086,stroke:"#000",strokeWidth:2}),
    Plot.text(qpcrGenes,{x:(d,i)=>i,y:()=>0,text:d=>d,rotate:-33,textAnchor:"end",dx:34,dy:20,fontSize:24.5,fontWeight:"bold",fontStyle:"italic",fill:"#000"})
  ]});
label("Relative expression level",209,3427,{size:33.6,anchor:"middle",rotate:-90});
block(1707.8,3105,312.7,219.7,"#fff","2px solid #222");
qpcrSeries.forEach((s,i)=>{
  const y=3128.4+i*35.2;
  block(1716.7,y-12.3,62.3,24.6,qpcrColors[i],"2px solid #111");
  label(s.replace(/^(miR156bOE-\d)/,"<i>$1</i>"),1789,y,{size:27,weight:400});
});
</script></body></html>
